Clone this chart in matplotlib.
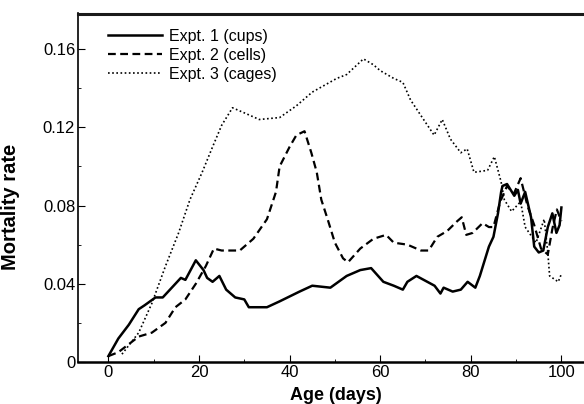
import numpy as np
import matplotlib.pyplot as plt
from matplotlib.lines import Line2D
from matplotlib.ticker import MultipleLocator

plt.rcParams['font.family'] = ['Liberation Sans', 'DejaVu Sans']

# Expt. 1 (cups)
days1 = [0, 2.2, 4.5, 6.7, 8, 10.4, 12, 14, 16, 17, 19.3, 21, 21.8, 23, 24.5, 26, 28,
         30, 31, 35, 37.8, 42.2, 45, 49, 52.6, 55.6, 58, 60.7, 63, 65, 66, 68, 70.4,
         72, 73.3, 74, 76, 77.8, 79.3, 81, 82, 84, 85, 86, 86.7, 87, 88, 89.6, 90.4,
         91, 92, 93.3, 94, 95, 96, 97, 98, 98.9, 99.6, 100]
rate1 = [0.003, 0.012, 0.019, 0.027, 0.029, 0.033, 0.033, 0.038, 0.043, 0.042, 0.052,
         0.047, 0.043, 0.041, 0.044, 0.037, 0.033, 0.032, 0.028, 0.028, 0.031, 0.036,
         0.039, 0.038, 0.044, 0.047, 0.048, 0.041, 0.039, 0.037, 0.041, 0.044, 0.041,
         0.039, 0.035, 0.038, 0.036, 0.037, 0.041, 0.038, 0.044, 0.059, 0.064, 0.076,
         0.087, 0.090, 0.091, 0.085, 0.088, 0.081, 0.087, 0.074, 0.059, 0.056, 0.057,
         0.069, 0.076, 0.066, 0.070, 0.079]

# Expt. 2 (cells)
days2 = [0, 2.2, 6.7, 9.6, 12.6, 14.8, 17, 19.3, 21.5, 23.3, 25, 29, 32, 35, 37, 37.8,
         40, 41.5, 43.3, 44.8, 46, 47, 48.4, 50, 51.8, 52.9, 55.6, 58.5, 61.3, 63, 66,
         69, 70.7, 72.6, 74.8, 77, 78, 79, 80.4, 82.6, 84, 85, 86.5, 88, 89.5, 91, 92.5,
         94, 95.5, 97, 98, 99, 100]
rate2 = [0.003, 0.005, 0.013, 0.015, 0.020, 0.028, 0.032, 0.040, 0.049, 0.058, 0.057,
         0.057, 0.063, 0.073, 0.087, 0.100, 0.110, 0.116, 0.118, 0.107, 0.097, 0.083,
         0.073, 0.061, 0.053, 0.051, 0.058, 0.063, 0.065, 0.061, 0.060, 0.057, 0.057,
         0.064, 0.067, 0.072, 0.074, 0.065, 0.066, 0.071, 0.069, 0.069, 0.082, 0.090,
         0.086, 0.094, 0.080, 0.070, 0.058, 0.055, 0.068, 0.078, 0.072]

# Expt. 3 (cages)
days3 = [3, 6.7, 9.6, 12.6, 15.5, 18, 20.7, 23, 25, 27.4, 30.4, 33.3, 37.8, 41.5, 45,
         50.4, 52.6, 56.3, 58.5, 60, 63, 65, 66.7, 69, 71.9, 73.7, 75.5, 77.8, 79.2,
         80.7, 83.7, 85.2, 86.7, 87.4, 89, 91, 92, 94.4, 96.2, 97, 97.4, 99.3, 100]
rate3 = [0.004, 0.015, 0.030, 0.049, 0.066, 0.083, 0.097, 0.110, 0.121, 0.130, 0.127,
         0.124, 0.125, 0.131, 0.138, 0.145, 0.147, 0.155, 0.152, 0.149, 0.145, 0.143,
         0.134, 0.126, 0.116, 0.124, 0.114, 0.107, 0.109, 0.097, 0.098, 0.105, 0.092,
         0.083, 0.077, 0.082, 0.069, 0.061, 0.073, 0.056, 0.044, 0.041, 0.045]

fig = plt.figure(figsize=(5.84, 4.04), dpi=100)
ax = fig.add_axes([0.1336, 0.104, 0.882, 0.864])

ax.plot(days1, rate1, color='black', lw=1.8, ls='-', label='Expt. 1 (cups)')
ax.plot(days2, rate2, color='black', lw=1.6, ls=(0, (3.5, 2)), label='Expt. 2 (cells)')
ax.plot(days3, rate3, color='black', lw=1.2, ls=(0, (1, 1.5)), label='Expt. 3 (cages)')

ax.set_xlim(-6.7, 107)
ax.set_ylim(0, 0.1785)
ax.set_xticks([0, 20, 40, 60, 80, 100])
ax.set_yticks([0, 0.04, 0.08, 0.12, 0.16])
ax.set_yticklabels(['0', '0.04', '0.08', '0.12', '0.16'])
ax.xaxis.set_minor_locator(MultipleLocator(10))
ax.yaxis.set_minor_locator(MultipleLocator(0.02))
ax.tick_params(axis='x', which='both', direction='in', labelsize=12, pad=2)
ax.tick_params(axis='x', which='major', length=5)
ax.tick_params(axis='x', which='minor', length=2.5)
ax.tick_params(axis='y', which='both', direction='in', labelsize=12, pad=2)
ax.tick_params(axis='y', which='major', length=5)
ax.tick_params(axis='y', which='minor', length=2.5)

ax.spines['right'].set_visible(False)
ax.spines['top'].set_visible(False)
ax.spines['bottom'].set_linewidth(1.8)
ax.spines['left'].set_linewidth(1.2)

# top frame line, drawn on the figure so it runs to the right edge
fig.add_artist(Line2D([0.1336, 1.0], [0.966, 0.966], transform=fig.transFigure,
                      color='#1a1a1a', lw=2.2, zorder=10))

ax.set_xlabel('Age (days)', fontsize=13, fontweight='bold', labelpad=5)
ax.set_ylabel('Mortality rate', fontsize=14.5, fontweight='bold')
ax.yaxis.set_label_coords(-0.113, 0.443)

ax.legend(loc='upper left', bbox_to_anchor=(0.058, 0.955), frameon=False, fontsize=11.5,
          handlelength=3.4, handletextpad=0.45, labelspacing=0.25, borderpad=0,
          borderaxespad=0)

fig.savefig('out.png', dpi=100)
